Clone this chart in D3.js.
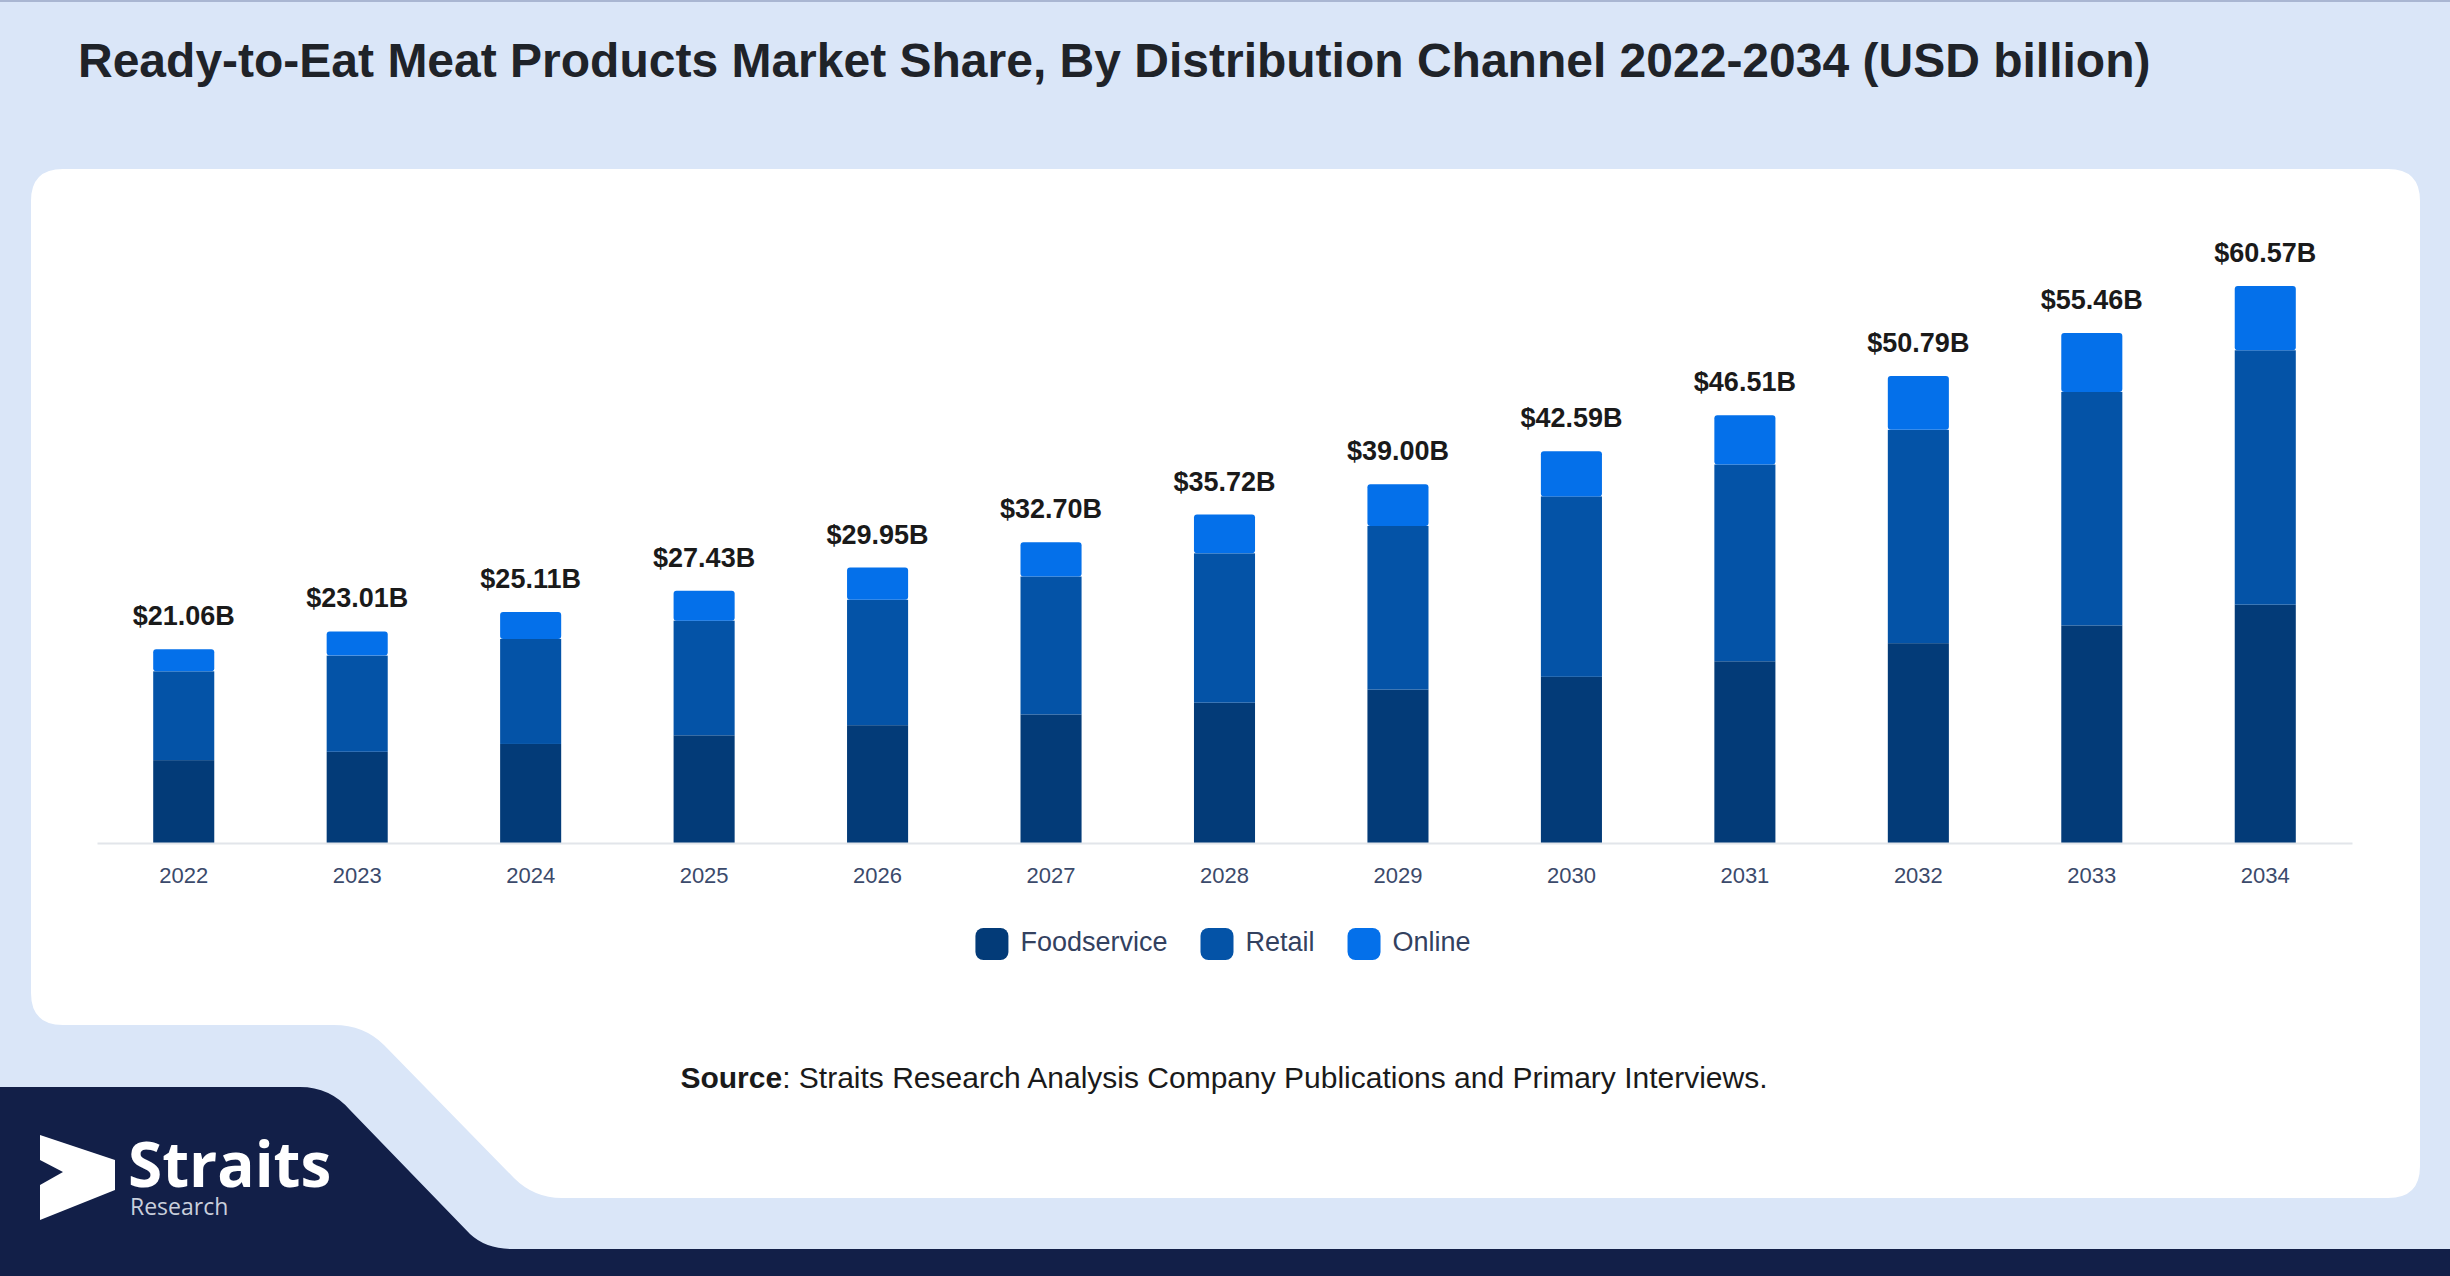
<!DOCTYPE html>
<html>
<head>
<meta charset="utf-8">
<script src="https://cdn.jsdelivr.net/npm/d3@7"></script>
<style>
  body{margin:0;padding:0;background:#dae6f8;overflow:hidden;}
  svg{display:block;}
</style>
</head>
<body>
<script>
// data (USD billion)
const years=["2022","2023","2024","2025","2026","2027","2028","2029","2030","2031","2032","2033","2034"];
const foodservice=[9.01,9.92,10.77,11.71,12.81,13.98,15.26,16.68,18.07,19.76,21.73,23.66,25.92];
const retail=[9.66,10.46,11.42,12.47,13.64,15.00,16.24,17.80,19.62,21.40,23.20,25.39,27.66];
const online=[2.39,2.63,2.92,3.25,3.50,3.72,4.22,4.52,4.90,5.35,5.86,6.41,6.99];
const totals=[21.06,23.01,25.11,27.43,29.95,32.70,35.72,39.00,42.59,46.51,50.79,55.46,60.57];
const seriesNames=["Foodservice","Retail","Online"];
const seriesColors=["#033b78","#0453a7","#0470ea"];

const W=2450, H=1276;

const svg=d3.select('body').append('svg')
  .attr('width',W)
  .attr('height',H);

// background + frame shapes
svg.append('rect').attr('width',W).attr('height',H).attr('fill','#dae6f8');
svg.append('rect').attr('width',W).attr('height',2).attr('fill','#a9b6d2');

// white card with the cut corner at bottom left
svg.append('path')
  .attr('d',"M63,169 H2388 Q2420,169 2420,201 V1166 Q2420,1198 2388,1198 H562 Q534,1198 514,1178 L384,1045 Q364,1025 334,1025 H63 Q31,1025 31,993 V201 Q31,169 63,169 Z")
  .attr('fill','#ffffff');

// navy footer
svg.append('path')
  .attr('d',"M0,1087 H300 Q330,1087 350,1110 L470,1234 Q486,1249 512,1249 H2450 V1276 H0 Z")
  .attr('fill','#121f48');

// title
svg.append('text')
  .attr('x',78).attr('y',77)
  .attr('font-family','"Liberation Sans", Arial, sans-serif')
  .attr('font-weight','bold')
  .attr('font-size',48)
  .attr('fill','#1f2329')
  .text('Ready-to-Eat Meat Products Market Share, By Distribution Channel 2022-2034 (USD billion)');

// build table for the stack
const table=years.map((y,i)=>({year:y,Foodservice:foodservice[i],Retail:retail[i],Online:online[i],total:totals[i]}));
const stacked=d3.stack().keys(seriesNames)(table);

const x=d3.scaleBand()
  .domain(years)
  .range([97,2352])
  .paddingInner(0.648)
  .paddingOuter(0.324);

const y=d3.scaleLinear()
  .domain([0,d3.max(totals)])
  .range([843,286]);

const color=d3.scaleOrdinal().domain(seriesNames).range(seriesColors);

// bars
const layers=svg.append('g').selectAll('g')
  .data(stacked).enter().append('g')
  .attr('fill',d=>color(d.key));

layers.selectAll('rect')
  .data(d=>d.map(v=>Object.assign(v,{key:d.key})))
  .enter().append('rect')
  .attr('x',d=>x(d.data.year))
  .attr('y',d=>y(d[1]))
  .attr('width',x.bandwidth())
  .attr('height',d=>y(d[0])-y(d[1]))
  .attr('rx',d=>d.key==="Online"?3:0);

// axis line + year labels
const xAxis=svg.append('g')
  .attr('transform','translate(0,843)')
  .call(d3.axisBottom(x).tickSize(0).tickPadding(24));
xAxis.select('.domain').attr('stroke','#e2e5ea').attr('stroke-width',2);
xAxis.selectAll('text')
  .attr('font-family','"Liberation Sans", Arial, sans-serif')
  .attr('font-size',22)
  .attr('fill','#3b4a6b');

// total labels
svg.append('g').selectAll('text')
  .data(table).enter().append('text')
  .attr('x',d=>x(d.year)+x.bandwidth()/2)
  .attr('y',d=>y(d.total)-24)
  .attr('text-anchor','middle')
  .attr('font-family','"Liberation Sans", Arial, sans-serif')
  .attr('font-weight','bold')
  .attr('font-size',27)
  .attr('fill','#1a1a1a')
  .text(d=>"$"+d.total.toFixed(2)+"B");

// legend
const legend=svg.append('g');
let legX=0;
seriesNames.forEach((name,i)=>{
  const item=legend.append('g').attr('transform','translate('+legX+',0)');
  item.append('rect')
    .attr('x',0).attr('y',928)
    .attr('width',33).attr('height',32)
    .attr('rx',8)
    .attr('fill',seriesColors[i]);
  const t=item.append('text')
    .attr('x',45).attr('y',951)
    .attr('font-family','"Liberation Sans", Arial, sans-serif')
    .attr('font-size',27)
    .attr('fill','#33415f')
    .text(name);
  legX+=45+t.node().getComputedTextLength()+33;
});
const legW=legX-33;
legend.attr('transform','translate('+(1223-legW/2)+',0)');

// source line
const src=svg.append('text')
  .attr('x',1224).attr('y',1088)
  .attr('text-anchor','middle')
  .attr('font-family','"Liberation Sans", Arial, sans-serif')
  .attr('font-size',30)
  .attr('fill','#1a1a1a');
src.append('tspan').attr('font-weight','bold').text('Source');
src.append('tspan').text(': Straits Research Analysis Company Publications and Primary Interviews.');

// logo
svg.append('polygon')
  .attr('points',"40,1135 115,1160 115,1190 40,1220 40,1185 63,1172 40,1160")
  .attr('fill','#ffffff');
const logo=svg.append('text')
  .attr('font-family','"Open Sans", sans-serif');
logo.append('tspan')
  .attr('x',128).attr('y',1187)
  .attr('font-weight','bold')
  .attr('font-size',62)
  .attr('fill','#ffffff')
  .text('Straits');
logo.append('tspan')
  .attr('x',130).attr('y',1215)
  .attr('font-size',23)
  .attr('fill','#c9cfdc')
  .text('Research');
</script>
</body>
</html>
